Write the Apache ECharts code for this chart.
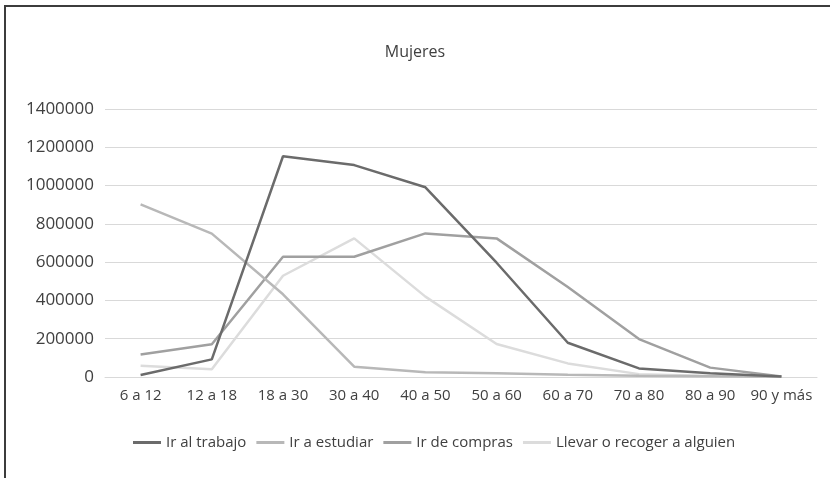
<!DOCTYPE html>
<html>
<head>
<meta charset="utf-8" />
<title>Mujeres</title>
<script src="https://cdn.jsdelivr.net/npm/echarts@6/dist/echarts.min.js"></script>
<style>
  html, body { margin: 0; padding: 0; background: #fff; }
  #frame { position: absolute; left: 4px; top: 5px; width: 826px; height: 473px;
           border-top: 2px solid #3c3c3c; border-left: 2px solid #3c3c3c; box-sizing: border-box; }
  #main { position: absolute; left: 0; top: 0; width: 830px; height: 478px; }
</style>
</head>
<body>
<div id="frame"></div>
<div id="main"></div>
<script type="text/javascript">
var categories = ['6 a 12', '12 a 18', '18 a 30', '30 a 40', '40 a 50', '50 a 60', '60 a 70', '70 a 80', '80 a 90', '90 y más'];
var irTrabajo  = [10000, 92000, 1153000, 1107000, 991000, 597000, 179000, 45000, 19000, 3000];
var irEstudiar = [902000, 749000, 432000, 54000, 25000, 20000, 12000, 6000, 4000, 1000];
var irCompras  = [118000, 171000, 628000, 628000, 750000, 724000, 470000, 198000, 49000, 3000];
var llevar     = [59000, 40000, 529000, 724000, 420000, 172000, 71000, 15000, 5000, 1000];
var seriesNames = ['Ir al trabajo', 'Ir a estudiar', 'Ir de compras', 'Llevar o recoger a alguien'];
var seriesColors = ['#6b6b6b', '#b8b8b8', '#a0a0a0', '#dcdcdc'];

var font = '"Open Sans", "Noto Sans", sans-serif';
var chart = echarts.init(document.getElementById('main'));

function mkSeries(i, data) {
  return {
    name: seriesNames[i],
    type: 'line',
    data: data,
    symbol: 'none',
    lineStyle: { width: 2.5, color: seriesColors[i] },
    itemStyle: { color: seriesColors[i] },
    z: 10 - i
  };
}

chart.setOption({
  animation: false,
  title: {
    text: 'Mujeres',
    left: 'center',
    top: 39,
    textStyle: { fontFamily: font, fontSize: 16, fontWeight: 'normal', color: '#404040' }
  },
  legend: {
    top: 430,
    left: 128,
    itemWidth: 28,
    itemHeight: 3,
    itemGap: 10,
    icon: 'rect',
    textStyle: { fontFamily: font, fontSize: 15, color: '#404040' },
    data: seriesNames
  },
  grid: { left: 105, right: 13, top: 109, bottom: 101, containLabel: false },
  xAxis: {
    type: 'category',
    data: categories,
    boundaryGap: true,
    axisLine: { lineStyle: { color: '#d9d9d9', width: 1 } },
    axisTick: { show: false },
    axisLabel: { fontFamily: font, fontSize: 15, color: '#404040', margin: 11, interval: 0 }
  },
  yAxis: {
    type: 'value',
    min: 0,
    max: 1400000,
    interval: 200000,
    axisLine: { show: false },
    axisTick: { show: false },
    splitLine: { lineStyle: { color: '#d9d9d9', width: 1 } },
    axisLabel: {
      fontFamily: font, fontSize: 17, color: '#404040', margin: 11,
      formatter: function (v) { return String(v); }
    }
  },
  series: [
    mkSeries(0, irTrabajo),
    mkSeries(1, irEstudiar),
    mkSeries(2, irCompras),
    mkSeries(3, llevar)
  ]
});
</script>
</body>
</html>
